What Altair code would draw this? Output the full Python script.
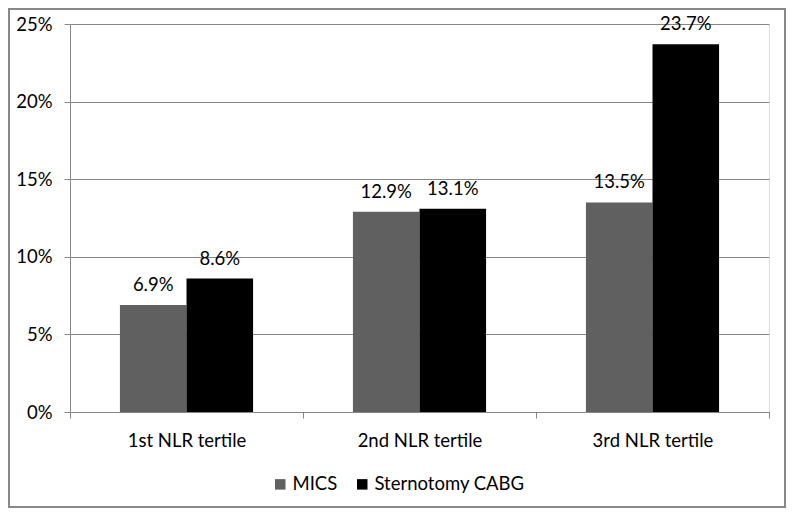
import altair as alt
import pandas as pd

categories = ["1st NLR tertile", "2nd NLR tertile", "3rd NLR tertile"]
series = ["MICS", "Sternotomy CABG"]
mics = [0.069, 0.129, 0.135]
cabg = [0.086, 0.131, 0.237]
y_ticks = [0, 0.05, 0.10, 0.15, 0.20, 0.25]

rows = []
for i, c in enumerate(categories):
    rows.append({"cat": c, "series": series[0], "value": mics[i]})
    rows.append({"cat": c, "series": series[1], "value": cabg[i]})
df = pd.DataFrame(rows)

FONT = "Lato"
FS = 18.5
GRID = "#868686"

x = alt.X("cat:N", sort=categories, title=None,
          scale=alt.Scale(paddingInner=0, paddingOuter=0),
          axis=alt.Axis(labelAngle=0, tickBand="extent", tickSize=6, tickColor=GRID,
                        domainColor=GRID, labelFontSize=FS, labelFont=FONT,
                        labelColor="#000000", labelPadding=13, grid=False))
xo = alt.XOffset("series:N", sort=series,
                 scale=alt.Scale(paddingInner=0, paddingOuter=0.75))
y = alt.Y("value:Q", title=None,
          scale=alt.Scale(domain=[0, 0.25], nice=False),
          axis=alt.Axis(values=y_ticks, format=".0%", tickSize=6, tickColor=GRID,
                        domainColor=GRID, gridColor=GRID, grid=True,
                        labelFontSize=FS, labelFont=FONT, labelColor="#000000",
                        labelPadding=12))
color = alt.Color("series:N", sort=series, title=None,
                  scale=alt.Scale(domain=series, range=["#606060", "#000000"]),
                  legend=alt.Legend(orient="none", direction="horizontal",
                                    legendX=201, legendY=451, symbolType="square",
                                    symbolSize=110, symbolStrokeWidth=0,
                                    labelFontSize=FS, labelFont=FONT,
                                    labelColor="#000000", labelOffset=3,
                                    columnPadding=15))

base = alt.Chart(df)
bars = base.mark_bar().encode(x=x, xOffset=xo, y=y, color=color)
labels = base.mark_text(baseline="alphabetic", dy=-14, fontSize=FS, font=FONT,
                        color="#000000").encode(
    x=x, xOffset=xo, y=y, text=alt.Text("value:Q", format=".1%"))

border = alt.Chart(pd.DataFrame({"a": [0]})).mark_rect(
    fill=None, stroke="#888888", strokeWidth=2).encode(
    x=alt.value(-61), x2=alt.value(715), y=alt.value(-15), y2=alt.value(483))

chart = alt.layer(bars, labels, border).properties(
    width=699, height=388,
    autosize=alt.AutoSizeParams(type="none"),
    padding={"left": 62, "top": 16, "right": 17, "bottom": 96},
).configure_view(stroke=None).configure(background="white")

chart.save("out.html", embed_options={"renderer": "svg", "actions": False})
